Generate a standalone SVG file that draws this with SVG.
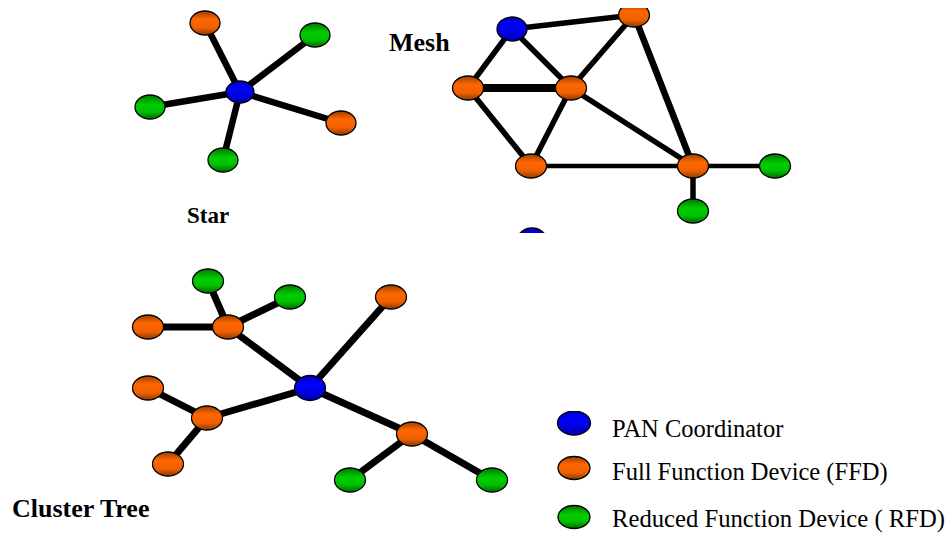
<svg xmlns="http://www.w3.org/2000/svg" width="949" height="534" viewBox="0 0 949 534">
  <defs>
    <linearGradient id="gOrange" x1="0" y1="0" x2="0" y2="1">
      <stop offset="0" stop-color="#9a4000"/>
      <stop offset="0.35" stop-color="#ff6600"/>
      <stop offset="0.7" stop-color="#f06000"/>
      <stop offset="1" stop-color="#8a3800"/>
    </linearGradient>
    <linearGradient id="gGreen" x1="0" y1="0" x2="0" y2="1">
      <stop offset="0" stop-color="#007a00"/>
      <stop offset="0.4" stop-color="#00cc00"/>
      <stop offset="0.7" stop-color="#00c000"/>
      <stop offset="1" stop-color="#006a00"/>
    </linearGradient>
    <linearGradient id="gBlue" x1="0" y1="0" x2="0" y2="1">
      <stop offset="0" stop-color="#0000c8"/>
      <stop offset="0.4" stop-color="#0000ff"/>
      <stop offset="1" stop-color="#0000b0"/>
    </linearGradient>
    <clipPath id="clipMesh"><rect x="370" y="8" width="579" height="225"/></clipPath>
    <clipPath id="clipLegendTop"><rect x="540" y="411" width="80" height="40"/></clipPath>
    <style>
      .edge { stroke: #000; stroke-linecap: round; fill: none; }
      .w4 { stroke-width: 4.5; }
      .w5 { stroke-width: 5.5; }
      .w6 { stroke-width: 6.5; }
      .w7 { stroke-width: 7; }
      .w8 { stroke-width: 8; }
      .node { stroke: #000; stroke-width: 1.3; }
      .ffd { fill: url(#gOrange); }
      .rfd { fill: url(#gGreen); }
      .pan { fill: url(#gBlue); }
      .title { font-family: "Liberation Serif", "Times New Roman", serif; font-weight: bold; fill: #000; }
      .legend { font-family: "Liberation Serif", "Times New Roman", serif; font-size: 24.5px; fill: #000; }
    </style>
  </defs>

  <rect width="949" height="534" fill="#ffffff"/>

  <!-- ===== Star topology ===== -->
  <g id="star-connectors">
    <line class="edge w6" x1="240" y1="92" x2="205" y2="23"/>
    <line class="edge w6" x1="240" y1="92" x2="315" y2="35"/>
    <line class="edge w6" x1="240" y1="92" x2="150" y2="107"/>
    <line class="edge w6" x1="240" y1="92" x2="341" y2="123"/>
    <line class="edge w6" x1="240" y1="92" x2="223" y2="160"/>
  </g>
  <g id="star-ffd-top"><ellipse class="node ffd" cx="205" cy="23" rx="15" ry="12"/></g>
  <g id="star-rfd-topright"><ellipse class="node rfd" cx="315" cy="35" rx="15" ry="12"/></g>
  <g id="star-rfd-left"><ellipse class="node rfd" cx="150" cy="107" rx="15" ry="12"/></g>
  <g id="star-ffd-right"><ellipse class="node ffd" cx="341" cy="123" rx="15" ry="12"/></g>
  <g id="star-rfd-bottom"><ellipse class="node rfd" cx="223" cy="160" rx="15" ry="12"/></g>
  <g id="star-pan"><ellipse class="node pan" cx="240" cy="92" rx="14" ry="11"/></g>
  <text class="title" x="187" y="223" font-size="23">Star</text>

  <!-- ===== Mesh topology ===== -->
  <g clip-path="url(#clipMesh)">
    <g id="mesh-connectors">
      <line class="edge w5" x1="512" y1="29" x2="634" y2="15"/>
      <line class="edge w5" x1="512" y1="29" x2="468" y2="88"/>
      <line class="edge w5" x1="512" y1="29" x2="571" y2="88"/>
      <line class="edge w8" x1="468" y1="88" x2="571" y2="88"/>
      <line class="edge w5" x1="468" y1="88" x2="531" y2="166"/>
      <line class="edge w5" x1="571" y1="88" x2="531" y2="166"/>
      <line class="edge w5" x1="571" y1="88" x2="634" y2="15"/>
      <line class="edge w5" x1="571" y1="88" x2="693" y2="166"/>
      <line class="edge w6" x1="634" y1="15" x2="693" y2="166"/>
      <line class="edge w4" x1="531" y1="166" x2="693" y2="166"/>
      <line class="edge w4" x1="693" y1="166" x2="775" y2="166"/>
      <line class="edge w5" x1="693" y1="166" x2="693" y2="211"/>
    </g>
    <g id="mesh-pan"><ellipse class="node pan" cx="512" cy="29" rx="15" ry="12"/></g>
    <g id="mesh-ffd-top"><ellipse class="node ffd" cx="634" cy="15" rx="15.5" ry="12"/></g>
    <g id="mesh-ffd-left"><ellipse class="node ffd" cx="468" cy="88" rx="15.5" ry="12"/></g>
    <g id="mesh-ffd-center"><ellipse class="node ffd" cx="571" cy="88" rx="15.5" ry="12"/></g>
    <g id="mesh-ffd-bottomleft"><ellipse class="node ffd" cx="531" cy="166" rx="15.5" ry="12"/></g>
    <g id="mesh-ffd-bottomright"><ellipse class="node ffd" cx="693" cy="166" rx="15.5" ry="12"/></g>
    <g id="mesh-rfd-right"><ellipse class="node rfd" cx="775" cy="166" rx="15.5" ry="12"/></g>
    <g id="mesh-rfd-bottom"><ellipse class="node rfd" cx="693" cy="211" rx="15.5" ry="12"/></g>
    <g id="mesh-pan-lower"><ellipse class="node pan" cx="532" cy="239" rx="14" ry="11"/></g>
  </g>
  <text class="title" x="389" y="51" font-size="26">Mesh</text>

  <!-- ===== Cluster tree topology ===== -->
  <g id="tree-connectors">
    <line class="edge w7" x1="208" y1="281" x2="228" y2="327"/>
    <line class="edge w7" x1="290" y1="297" x2="228" y2="327"/>
    <line class="edge w7" x1="148" y1="327" x2="228" y2="327"/>
    <line class="edge w7" x1="228" y1="327" x2="310" y2="388"/>
    <line class="edge w7" x1="391" y1="297" x2="310" y2="388"/>
    <line class="edge w7" x1="148" y1="388" x2="207" y2="418"/>
    <line class="edge w7" x1="207" y1="418" x2="310" y2="388"/>
    <line class="edge w7" x1="207" y1="418" x2="168" y2="464"/>
    <line class="edge w7" x1="310" y1="388" x2="412" y2="434"/>
    <line class="edge w7" x1="412" y1="434" x2="350" y2="480"/>
    <line class="edge w7" x1="412" y1="434" x2="492" y2="480"/>
  </g>
  <g id="tree-rfd-top"><ellipse class="node rfd" cx="208" cy="281" rx="15.5" ry="12"/></g>
  <g id="tree-rfd-top2"><ellipse class="node rfd" cx="290" cy="297" rx="15.5" ry="12"/></g>
  <g id="tree-ffd-far"><ellipse class="node ffd" cx="391" cy="297" rx="15.5" ry="12"/></g>
  <g id="tree-ffd-left"><ellipse class="node ffd" cx="148" cy="327" rx="15.5" ry="12"/></g>
  <g id="tree-ffd-hub1"><ellipse class="node ffd" cx="228" cy="327" rx="15.5" ry="12"/></g>
  <g id="tree-pan"><ellipse class="node pan" cx="310" cy="388" rx="15.5" ry="12.5"/></g>
  <g id="tree-ffd-left2"><ellipse class="node ffd" cx="148" cy="388" rx="15.5" ry="12"/></g>
  <g id="tree-ffd-hub2"><ellipse class="node ffd" cx="207" cy="418" rx="15.5" ry="12"/></g>
  <g id="tree-ffd-bottomleft"><ellipse class="node ffd" cx="168" cy="464" rx="15.5" ry="12"/></g>
  <g id="tree-ffd-hub3"><ellipse class="node ffd" cx="412" cy="434" rx="15.5" ry="12"/></g>
  <g id="tree-rfd-b1"><ellipse class="node rfd" cx="350" cy="480" rx="15.5" ry="12"/></g>
  <g id="tree-rfd-b2"><ellipse class="node rfd" cx="492" cy="480" rx="15.5" ry="12"/></g>
  <text class="title" x="12" y="517" font-size="26">Cluster Tree</text>

  <!-- ===== Legend ===== -->
  <g id="legend-pan">
    <ellipse class="node pan" cx="574" cy="423" rx="16.5" ry="12" clip-path="url(#clipLegendTop)"/>
    <text class="legend" x="612" y="437">PAN Coordinator</text>
  </g>
  <g id="legend-ffd">
    <ellipse class="node ffd" cx="574" cy="468" rx="16" ry="11.5"/>
    <text class="legend" x="612" y="480">Full Function Device (FFD)</text>
  </g>
  <g id="legend-rfd">
    <ellipse class="node rfd" cx="574" cy="517" rx="16" ry="11.5"/>
    <text class="legend" x="612" y="527" textLength="333" lengthAdjust="spacingAndGlyphs">Reduced Function Device ( RFD)</text>
  </g>
</svg>
